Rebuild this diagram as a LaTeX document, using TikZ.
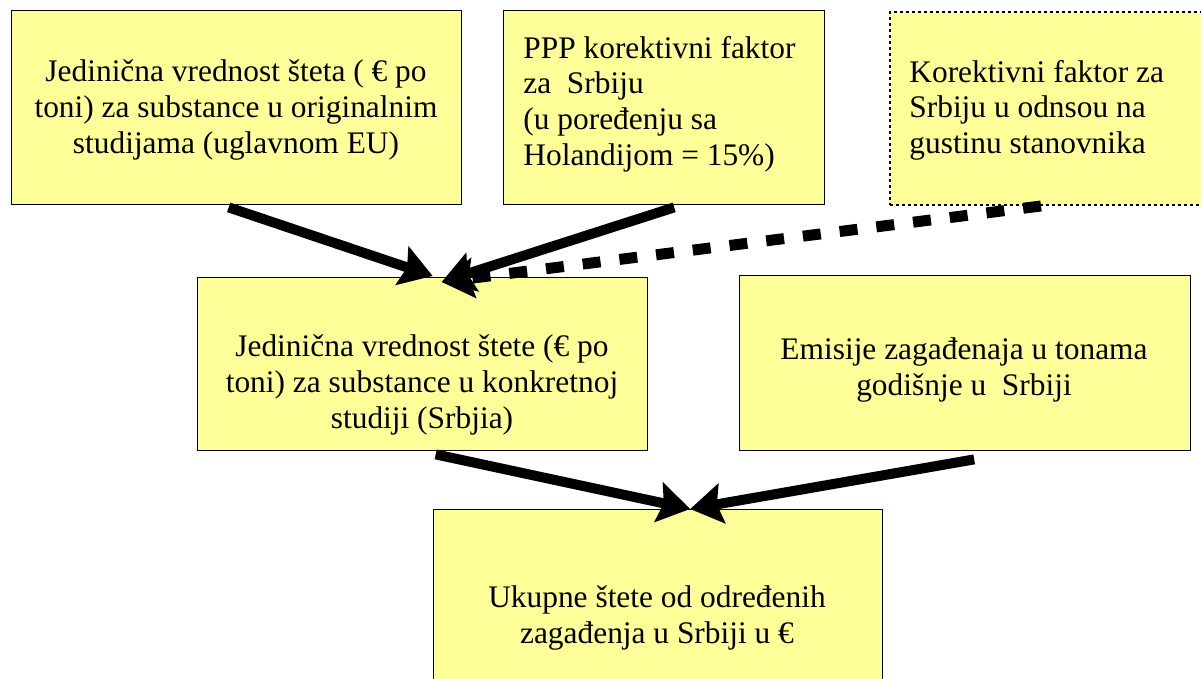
\documentclass[tikz,border=0pt]{standalone}
\usepackage{fontspec}
\setmainfont{Liberation Serif}
\usetikzlibrary{
  arrows.meta,
  calc,
  positioning,
}
\definecolor{boxyellow}{RGB}{255, 255, 153}
\tikzstyle{box} = [
  draw=black,
  line width=0.7pt,
  fill=boxyellow,
  inner sep=0pt,
  anchor=north west,
]
\tikzstyle{dotbox} = [
  box,
  line width=1pt,
  dash pattern=on 1.5pt off 1.5pt,
]
\tikzstyle{txt} = [
  font=\fontsize{15.7}{17.8}\selectfont,
  inner sep=0pt,
]
\tikzstyle{arrow} = [
  -{Stealth[length=16pt,width=20pt,inset=2.5pt]},
  line width=5pt,
  black,
]
\tikzstyle{dasharrow} = [
  arrow,
  line width=5.5pt,
  dash pattern=on 9pt off 9.5pt,
]

\begin{document}
\begin{tikzpicture}[x=0.5pt, y=-0.5pt]

        \useasboundingbox (0,0) rectangle (1201,679);

        % boxes
        \node [box, minimum width=225pt, minimum height=97pt] (unit) at (11,10) {};

        \node [box, minimum width=160.5pt, minimum height=97pt] (ppp) at (503,10) {};

        \node [dotbox, minimum width=165pt, minimum height=96.5pt] (density) at (889,11) {};

        \node [box, minimum width=225pt, minimum height=86.5pt] (serbia) at (197,277) {};

        \node [box, minimum width=225.5pt, minimum height=87.5pt] (emis) at (739,275) {};

        \node [box, minimum width=224.5pt, minimum height=110pt] (total) at (433,509) {};

        % texts
        \node [txt, align=center] (unitT) at (236,110)
              {Jedinična vrednost šteta ( € po\\ toni) za substance u originalnim\\ studijama (uglavnom EU)};

        \node [txt, align=left, anchor=west] (pppT) at (523,104)
              {PPP korektivni faktor\\ za\ \ Srbiju\\ (u poređenju sa\\ Holandijom = 15\%)};

        \node [txt, align=left, anchor=west] (densityT) at (909,110)
              {Korektivni faktor za\\ Srbiju u odnsou na\\ gustinu stanovnika};

        \node [txt, align=center] (serbiaT) at (422,385)
              {Jedinična vrednost štete (€ po\\ toni) za substance u konkretnoj\\ studiji (Srbjia)};

        \node [txt, align=center] (emisT) at (964,370)
              {Emisije zagađenaja u tonama\\ godišnje u\ \ Srbiji};

        \node [txt, align=center] (totalT) at (657,618)
              {Ukupne štete od određenih\\ zagađenja u Srbiji u €};

        % arrow ends
        \coordinate (unitOut) at ($(unit.south)+(-8,2)$);
        \coordinate (pppOut) at ($(ppp.south)+(10,2)$);
        \coordinate (densityOut) at ($(density.south)+(-14,0)$);
        \coordinate (serbiaIn) at ($(serbia.north)+(10,-1)$);
        \coordinate (serbiaIn2) at ($(serbia.north)+(19,5)$);
        \coordinate (serbiaOut) at ($(serbia.south)+(13,3)$);
        \coordinate (emisOut) at ($(emis.south)+(9,8)$);
        \coordinate (totalIn) at ($(total.north)+(32,0)$);

        \draw [arrow] (unitOut) -- (serbiaIn);
        \draw [arrow] (pppOut) -- (serbiaIn2);
        \draw [dasharrow] (densityOut) -- (serbiaIn2);
        \draw [arrow] (serbiaOut) -- (totalIn);
        \draw [arrow] (emisOut) -- (totalIn);
      \end{tikzpicture}
\end{document}
